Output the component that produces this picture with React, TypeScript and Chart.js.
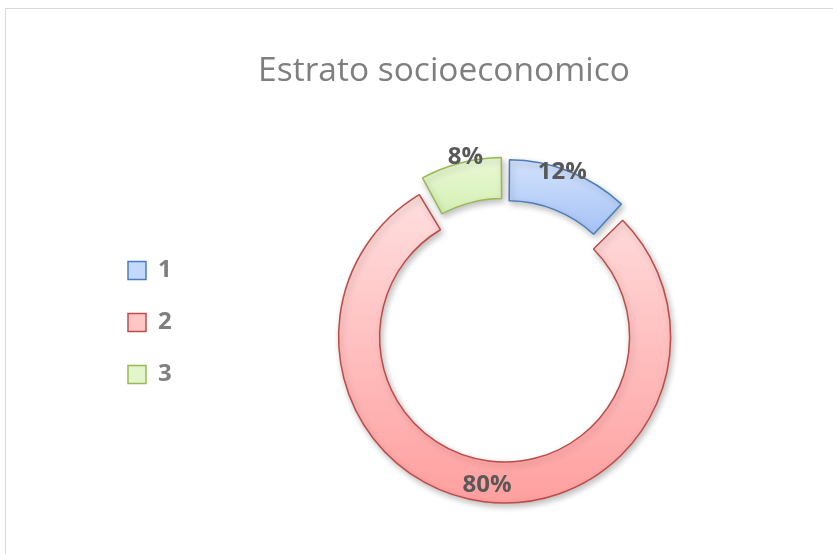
import React, { useEffect, useRef } from 'react';
import { Chart, registerables, layouts } from 'chart.js';

Chart.register(...registerables);

const TITLE = 'Estrato socioeconomico';
const CATEGORIES = ['1', '2', '3'];
const VALUES = [12, 80, 8];

const BORDER_COLORS = ['#4a7ebb', '#be4b48', '#98b954'];
const GRADIENT_TOP = ['#dbe7fc', '#ffdcdc', '#f0fbe1'];
const GRADIENT_BOTTOM = ['#a9c6f7', '#ff9e9e', '#d5efb3'];
const LEGEND_FILL = ['#c4d8fa', '#ffc6c6', '#e3f5cb'];

const FONT = "'Open Sans', 'DejaVu Sans', sans-serif";
// gradient extents relative to the doughnut centre (style only)
const GRAD_SPAN: [number, number][] = [[-180, -100], [-130, 172], [-184, -112]];
// explode offsets per slice (style only)
const SLICE_OFFSET = [36, 8, 36];
// label placement tweaks (style only): radial shift vs outer radius, angle shift in degrees
const LABEL_SHIFT = [11, -11, 20];
const LABEL_ANGLE = [-2.2, -0.4, 1.9];
const LEGEND_GAP = 40;

const legendGapPlugin = {
  id: 'legendGap',
  beforeInit(chart: any) {
    const box: any = {
      position: 'left',
      weight: 0,
      fullSize: false,
      options: {},
      left: 0, top: 0, right: 0, bottom: 0, width: 0, height: 0,
      isHorizontal: () => false,
      update(_w: number, h: number) {
        box.width = LEGEND_GAP;
        box.height = h;
      },
      draw() {},
    };
    layouts.addBox(chart, box);
  },
};

const shadowPlugin = {
  id: 'shadow',
  beforeDatasetsDraw(chart: any) {
    const ctx = chart.ctx;
    ctx.save();
    ctx.shadowColor = 'rgba(0,0,0,0.25)';
    ctx.shadowBlur = 6;
    ctx.shadowOffsetX = 2;
    ctx.shadowOffsetY = 3;
  },
  afterDatasetsDraw(chart: any) {
    chart.ctx.restore();
  },
};

const labelPlugin = {
  id: 'pctLabels',
  afterDatasetsDraw(chart: any) {
    const ctx = chart.ctx;
    const meta = chart.getDatasetMeta(0);
    const total = VALUES.reduce((a, b) => a + b, 0);
    ctx.save();
    ctx.font = `bold 24px ${FONT}`;
    ctx.fillStyle = '#595959';
    ctx.textAlign = 'center';
    ctx.textBaseline = 'middle';
    meta.data.forEach((arc: any, i: number) => {
      const p = arc.getProps(['x', 'y', 'startAngle', 'endAngle', 'outerRadius'], true);
      const mid = (p.startAngle + p.endAngle) / 2 + (LABEL_ANGLE[i] * Math.PI) / 180;
      const r = p.outerRadius + LABEL_SHIFT[i];
      const pct = Math.round((VALUES[i] / total) * 100) + '%';
      ctx.fillText(pct, p.x + Math.cos(mid) * r, p.y + Math.sin(mid) * r);
    });
    ctx.restore();
  },
};

export default function App() {
  const ref = useRef<HTMLCanvasElement | null>(null);

  useEffect(() => {
    if (!ref.current) return;
    const chart = new Chart(ref.current, {
      type: 'doughnut',
      data: {
        labels: CATEGORIES,
        datasets: [
          {
            data: VALUES,
            backgroundColor: (c: any) => {
              const i = c.dataIndex ?? 0;
              const area = c.chart.chartArea;
              if (!area) return GRADIENT_TOP[i];
              const cy = (area.top + area.bottom) / 2;
              const g = c.chart.ctx.createLinearGradient(0, cy + GRAD_SPAN[i][0], 0, cy + GRAD_SPAN[i][1]);
              g.addColorStop(0, GRADIENT_TOP[i]);
              g.addColorStop(1, GRADIENT_BOTTOM[i]);
              return g;
            },
            borderColor: BORDER_COLORS,
            borderWidth: 1.5,
            spacing: 4,
            offset: SLICE_OFFSET,
            hoverOffset: 0,
            clip: false,
          } as any,
        ],
      },
      options: {
        responsive: false,
        animation: false,
        radius: 162,
        cutout: '74.7%',
        rotation: 0,
        layout: { padding: { left: 100, right: 45, top: 10, bottom: 114.5 } },
        plugins: {
          tooltip: { enabled: false },
          title: {
            display: true,
            text: TITLE,
            color: '#7f7f7f',
            font: { family: FONT, size: 33.5, weight: 'normal' },
            padding: { top: 41, bottom: 139.3 },
          },
          legend: {
            position: 'left',
            align: 'start',
            fullSize: false,
            labels: {
              boxWidth: 18,
              boxHeight: 18,
              padding: 28,
              color: '#7f7f7f',
              font: { family: FONT, size: 24, weight: 'bold' },
              generateLabels: () =>
                CATEGORIES.map((t, i) => ({
                  text: t,
                  fillStyle: LEGEND_FILL[i],
                  strokeStyle: BORDER_COLORS[i],
                  lineWidth: 1.5,
                  hidden: false,
                  index: i,
                  fontColor: '#7f7f7f',
                })),
            },
          },
        },
      } as any,
      plugins: [legendGapPlugin, shadowPlugin, labelPlugin],
    });
    return () => chart.destroy();
  }, []);

  return (
    <div style={{ position: 'fixed', left: 0, top: 0, width: 833, height: 554, overflow: 'hidden', background: '#fff' }}>
      <div
        style={{
          position: 'absolute',
          left: 5,
          top: 8,
          width: 900,
          height: 700,
          border: '1px solid #d9d9d9',
        }}
      />
      <canvas ref={ref} width={833} height={554} style={{ position: 'absolute', left: 0, top: 0, width: 833, height: 554 }} />
    </div>
  );
}
